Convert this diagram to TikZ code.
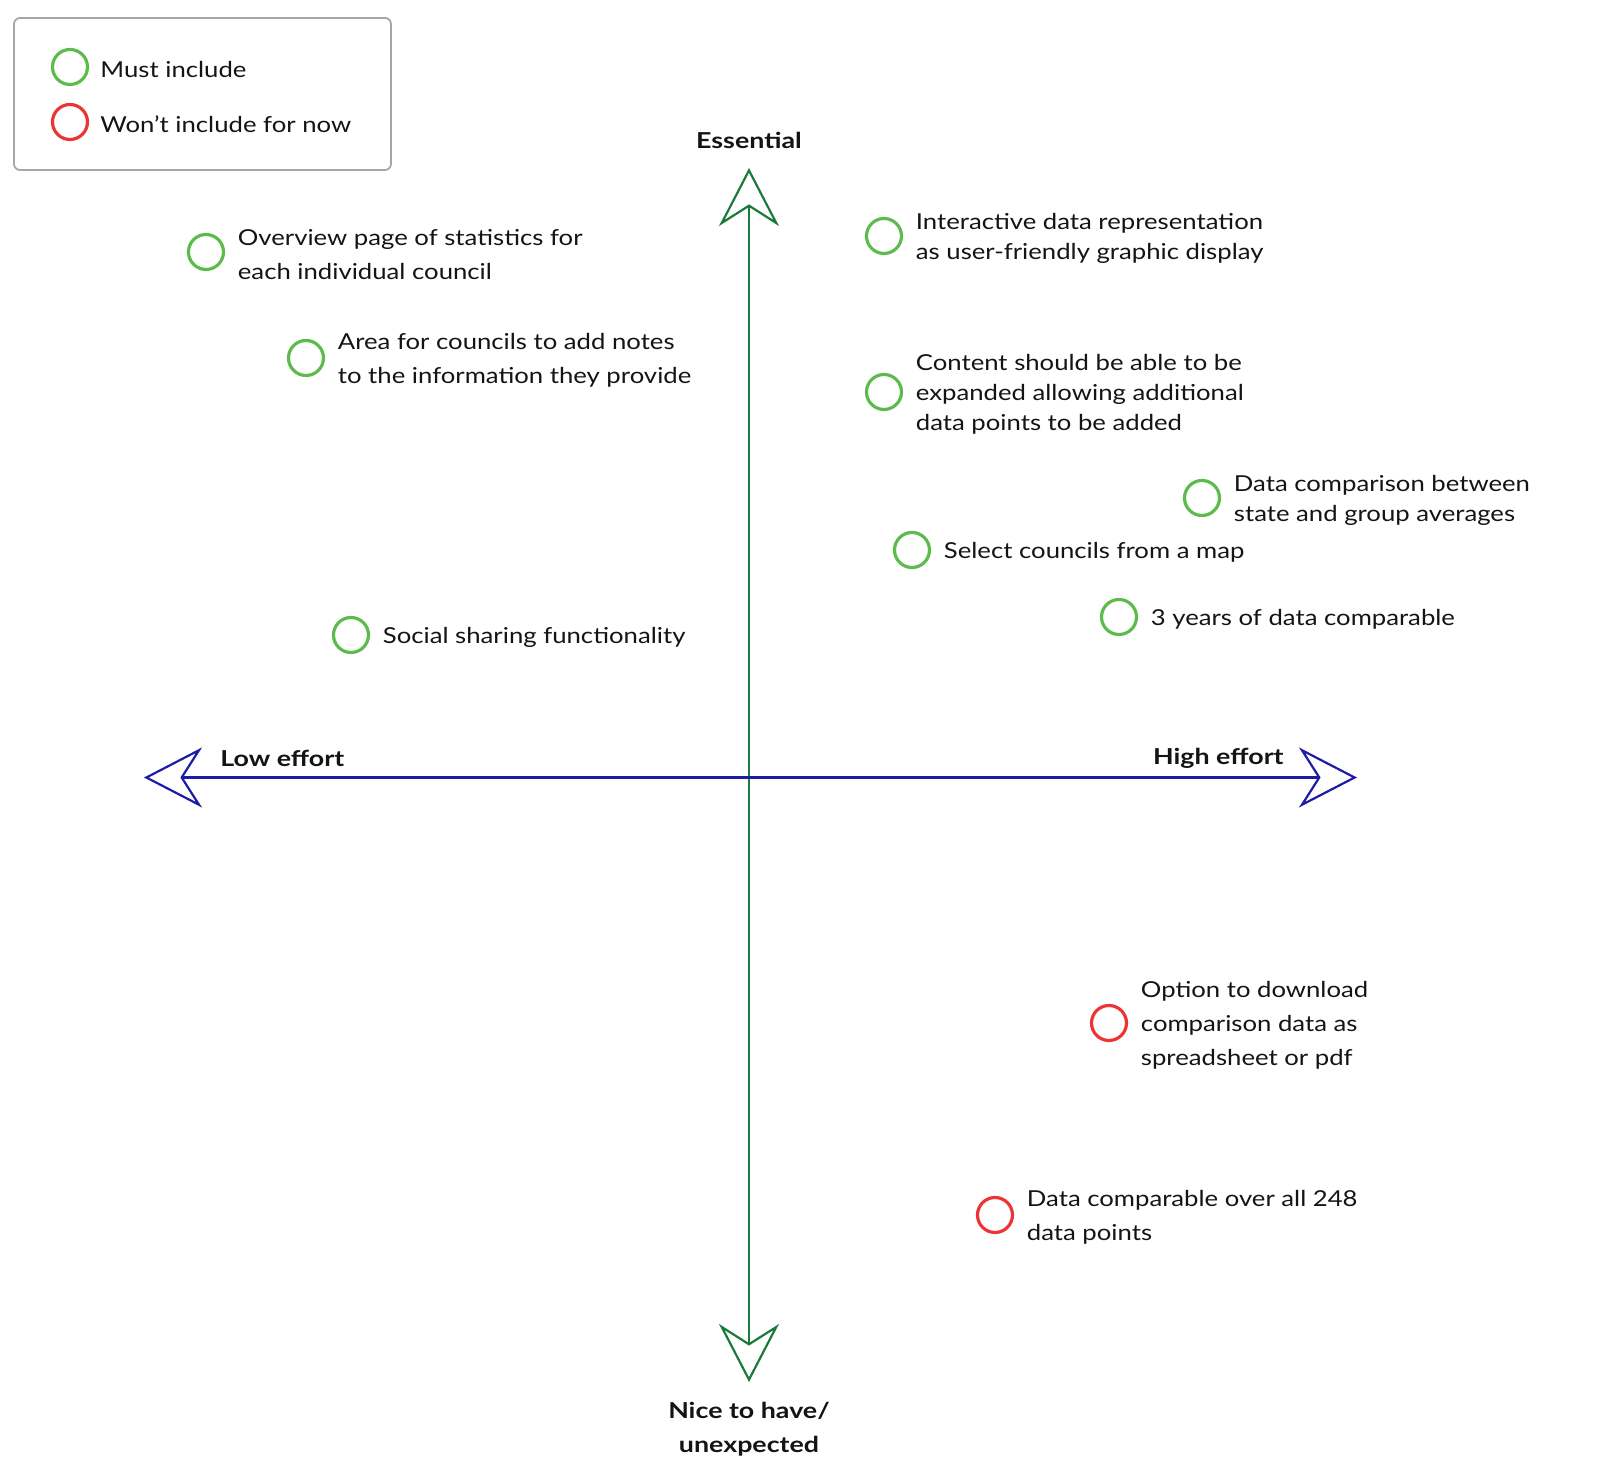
\documentclass[tikz,border=0pt]{standalone}
\usepackage{fontspec}
\setmainfont{Lato}[FakeStretch=1.17, BoldFeatures={FakeStretch=1.22}]
\usetikzlibrary{positioning,arrows.meta}

\definecolor{mustgreen}{HTML}{5CBB4B}
\definecolor{wontred}{HTML}{EC3434}
\definecolor{axisgreen}{HTML}{1B7A3C}
\definecolor{axisblue}{HTML}{1C1CA6}
\definecolor{ink}{HTML}{141414}

\tikzset{
  must/.style={circle, draw=mustgreen, line width=1.8pt, minimum size=0.7cm, inner sep=0pt},
  wont/.style={must, draw=wontred},
  idea/.style={inner sep=0pt, align=left, text=ink, yshift=-0.05cm, font=\fontsize{12.5}{19.5}\selectfont},
  tightidea/.style={idea, font=\fontsize{12.5}{17}\selectfont},
  axislabel/.style={inner sep=0pt, align=center, text=ink, font=\fontsize{12.5}{19.5}\selectfont\bfseries},
  axisarrow/.style={line width=1.25pt, line join=miter,
    {Stealth[open, length=1.16cm, width=1.2cm, inset=0.38cm]}-{Stealth[open, length=1.16cm, width=1.2cm, inset=0.38cm]}}
}

\begin{document}
\begin{tikzpicture}
    \useasboundingbox (-14.98,-14.07) rectangle (17.02,15.55);

    % key
    \draw[rounded corners=0.12cm, draw=black!35, line width=1pt] (-14.7,15.19) rectangle (-7.16,12.15);
    \node[must] (keymust) at (-13.58,14.21) {};
    \node[idea, right=0.22cm of keymust] (keymusttext) {Must include};
    \node[wont] (keywont) at (-13.58,13.11) {};
    \node[idea, right=0.22cm of keywont] (keywonttext) {Won’t include for now};

    % axes
    \coordinate (top) at (0,12.19);
    \coordinate (bottom) at (0,-12.09);
    \coordinate (left) at (-12.1,0);
    \coordinate (right) at (12.16,0);
    \draw[axisarrow, axisgreen] (bottom) -- (top);
    \draw[axisarrow, axisblue] (left) -- (right);
    \node[axislabel, above=0.37cm of top] (essential) {Essential};
    \node[axislabel, below=0.4cm of bottom] (nice) {Nice to have/\\unexpected};
    \node[axislabel, anchor=west] (low) at (-10.58,0.39) {Low effort};
    \node[axislabel, anchor=east] (high) at (10.7,0.39) {High effort};

    % low effort, essential
    \node[must] (overview) at (-10.86,10.51) {};
    \node[idea, right=0.25cm of overview] (overviewtext) {Overview page of statistics for\\each individual council};
    \node[must] (notes) at (-8.86,8.39) {};
    \node[idea, right=0.25cm of notes] (notestext) {Area for councils to add notes\\to the information they provide};
    \node[must] (social) at (-7.96,2.85) {};
    \node[idea, right=0.25cm of social] (socialtext) {Social sharing functionality};

    % high effort, essential
    \node[must] (interactive) at (2.70,10.83) {};
    \node[tightidea, right=0.25cm of interactive] (interactivetext) {Interactive data representation\\as user-friendly graphic display};
    \node[must] (content) at (2.70,7.71) {};
    \node[tightidea, right=0.25cm of content] (contenttext) {Content should be able to be\\expanded allowing additional\\data points to be added};
    \node[must] (averages) at (9.06,5.59) {};
    \node[tightidea, right=0.25cm of averages] (averagestext) {Data comparison between\\state and group averages};
    \node[must] (map) at (3.26,4.55) {};
    \node[idea, right=0.25cm of map] (maptext) {Select councils from a map};
    \node[must] (years) at (7.40,3.21) {};
    \node[idea, right=0.25cm of years] (yearstext) {3 years of data comparable};

    % high effort, nice to have
    \node[wont] (download) at (7.20,-4.91) {};
    \node[idea, right=0.25cm of download] (downloadtext) {Option to download\\comparison data as\\spreadsheet or pdf};
    \node[wont] (allpoints) at (4.92,-8.75) {};
    \node[idea, right=0.25cm of allpoints] (allpointstext) {Data comparable over all 248\\data points};
\end{tikzpicture}
\end{document}
